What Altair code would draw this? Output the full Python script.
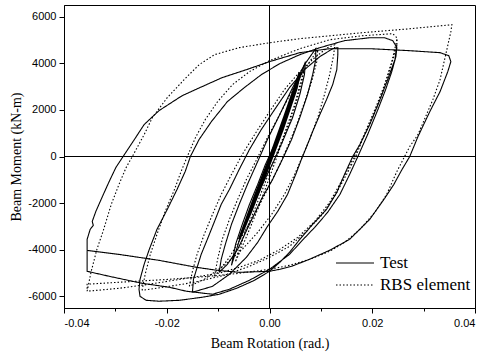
import altair as alt
import pandas as pd

# ---- Test (solid) hysteresis segments: (beam rotation [rad], beam moment [kN-m])
TEST_035 = [(-0.0355,-4030),(-0.0355,-3555),(-0.0349,-3125),(-0.0343,-2955),(-0.0345,-2785),(-0.0338,-2355),
            (-0.0326,-1755),(-0.0312,-1070),(-0.0299,-470),(-0.0285,0),(-0.0263,730),(-0.0244,1370),(-0.0215,1970),
            (-0.0170,2610),(-0.0127,3040),(-0.0092,3385),(-0.0045,3725),(0.0,4070),(0.0059,4455),(0.0117,4625),
            (0.0195,4625),(0.0273,4540),(0.0332,4455),(0.0349,4325),(0.0353,4070),(0.0347,3640),(0.0332,2785),
            (0.0312,1925),(0.0289,855),(0.0273,0),(0.0258,-555),(0.0242,-1200),(0.0224,-1800),(0.0195,-2700),
            (0.0156,-3555),(0.0117,-4025),(0.0078,-4410),(0.0043,-4710),(0.0020,-4840),(0.0,-4925),(-0.0059,-4970),
            (-0.0103,-4880),(-0.0142,-4755),(-0.0215,-4455),(-0.0293,-4200),(-0.0355,-4030)]
TEST_025 = [(0.0248,4800),(0.0244,4155),(0.0230,3300),(0.0215,2440),(0.0195,1370),(0.0176,515),(0.0162,0),
            (0.0146,-770),(0.0131,-1540),(0.0111,-2270),(0.0084,-2910),(0.0059,-3555),(0.0039,-4110),(0.0020,-4540),
            (0.0,-4925),(-0.0029,-5310),(-0.0064,-5655),(-0.0098,-5910),(-0.0131,-6040),(-0.0176,-6170),
            (-0.0215,-6210),(-0.0240,-6170),(-0.0252,-6000),(-0.0254,-5700),
            (-0.0252,-5270),(-0.0244,-4625),(-0.0234,-3985),(-0.0219,-3125),(-0.0199,-2270),(-0.0180,-1415),
            (-0.0164,-640),(-0.0154,0),(-0.0137,730),(-0.0113,1500),(-0.0082,2355),(-0.0049,2955),(-0.0016,3510),
            (0.0020,3985),(0.0059,4370),(0.0098,4670),(0.0146,4970),(0.0195,5095),(0.0224,5095),(0.0240,4970),
            (0.0248,4670),
            (0.0246,4280),(0.0238,3640),(0.0226,2870),(0.0211,2015),(0.0191,940),(0.0172,0),(0.0156,-770),
            (0.0137,-1630),(0.0113,-2400),(0.0088,-3040),(0.0062,-3640),(0.0039,-4200),(0.0,-4840),(-0.0039,-5310),
            (-0.0078,-5695),(-0.0111,-5910),
            (-0.0162,-5780),(-0.0195,-5610),(-0.0248,-5440),(-0.0312,-5140),(-0.0355,-4925),(-0.0355,-4030)]
TEST_015 = [(-0.0150,-5825),(-0.0148,-5270),(-0.0142,-4840),(-0.0133,-4200),(-0.0121,-3555),(-0.0107,-2785),
            (-0.0094,-2055),(-0.0078,-1415),(-0.0059,-555),(-0.0039,300),(-0.0016,1155),(0.0010,2015),(0.0039,2955),
            (0.0068,3725),(0.0098,4285),(0.0123,4625),(0.0133,4670),(0.0133,4370),(0.0131,3725),(0.0123,3085),
            (0.0111,2440),(0.0098,1800),(0.0084,1070),(0.0070,300),(0.0062,-130),(0.0051,-770),(0.0035,-1630),
            (0.0016,-2355),(-0.0004,-3000),(-0.0023,-3685),(-0.0045,-4325),(-0.0078,-5055),(-0.0111,-5570),
            (-0.0150,-5825)]
TEST_010 = [(-0.0098,-4970),(-0.0094,-4410),(-0.0086,-3770),(-0.0074,-2910),(-0.0059,-2055),(-0.0043,-1200),
            (-0.0023,-215),(-0.0004,730),(0.0020,1800),(0.0045,2955),(0.0068,3940),(0.0090,4625),(0.0090,4155),
            (0.0084,3510),(0.0074,2655),(0.0059,1670),(0.0043,730),(0.0025,-130),(0.0006,-985),(-0.0016,-1840),
            (-0.0039,-2910),(-0.0062,-3985),(-0.0082,-4625),(-0.0098,-4970)]
TEST_0075 = [(-0.0074,-4670),(-0.0066,-3770),(-0.0053,-2910),(-0.0039,-2055),(-0.0023,-1200),(-0.0008,-345),
             (0.0010,515),(0.0029,1585),(0.0051,2870),(0.0070,4070),(0.0068,3510),(0.0059,2655),(0.0045,1670),
             (0.0027,730),(0.0008,-215),(-0.0014,-1200),(-0.0035,-2270),(-0.0055,-3340),(-0.0074,-4670)]
TEST_005 = [(-0.0059,-3555),(-0.0030,-1800),(0.0,-100),(0.0030,1750),(0.0059,3600),(0.0052,2900),
            (0.0025,1150),(-0.0005,-600),(-0.0035,-2300),(-0.0059,-3555)]

# ---- RBS element model (dotted)
RBS_035 = [(-0.0355,-5780),(-0.0347,-4925),(-0.0336,-3985),(-0.0324,-3210),(-0.0308,-2055),(-0.0293,-1200),
           (-0.0279,-470),(-0.0267,0),(-0.0244,940),(-0.0228,1670),(-0.0199,2525),(-0.0166,3300),(-0.0137,3940),
           (-0.0107,4370),(-0.0059,4670),(0.0,4880),(0.0059,5055),(0.0180,5310),(0.0273,5480),(0.0355,5655),
           (0.0353,5355),(0.0343,4370),(0.0332,3300),(0.0318,2440),(0.0304,1715),(0.0289,940),(0.0273,430),
           (0.0263,0),(0.0248,-640),(0.0228,-1630),(0.0205,-2400),(0.0176,-3125),(0.0146,-3685),(0.0117,-4070),
           (0.0078,-4410),(0.0039,-4670),(0.0,-4840),(-0.0059,-5010),(-0.0117,-5140),(-0.0195,-5270),
           (-0.0293,-5395),(-0.0355,-5480),(-0.0355,-5780)]
RBS_025 = [(-0.0248,-5740),(-0.0242,-5055),(-0.0232,-4200),(-0.0219,-3340),(-0.0203,-2355),(-0.0185,-1415),
           (-0.0172,-640),(-0.0160,0),(-0.0144,815),(-0.0125,1585),(-0.0101,2355),(-0.0072,3085),(-0.0039,3640),
           (0.0,4110),(0.0059,4625),(0.0117,5010),(0.0180,5180),(0.0240,5270),(0.0248,5095),(0.0248,4795),
           (0.0240,4155),(0.0228,3300),(0.0215,2440),(0.0199,1585),(0.0181,730),(0.0168,0),(0.0152,-685),
           (0.0131,-1540),(0.0103,-2485),(0.0072,-3210),(0.0039,-3855),(0.0,-4325),(-0.0039,-4710),
           (-0.0088,-5095),(-0.0146,-5395),(-0.0195,-5570),(-0.0248,-5740)]
RBS_025B = [(0.0248,5010),(0.0238,4070),(0.0224,3085),(0.0209,2225),(0.0191,1285),(0.0174,430),(0.0162,-130),
            (0.0142,-985),(0.0117,-1970),(0.0088,-2785),(0.0055,-3470),(0.0020,-3985),(-0.0020,-4455),
            (-0.0059,-4755),(-0.0098,-5010),(-0.0162,-5225),(-0.0234,-5480),(-0.0293,-5655),(-0.0355,-5780)]
RBS_015 = [(-0.0156,-5570),(-0.0150,-4925),(-0.0141,-4200),(-0.0127,-3340),(-0.0111,-2485),(-0.0094,-1630),
           (-0.0074,-770),(-0.0053,85),(-0.0029,940),(0.0,1925),(0.0029,2870),(0.0059,3640),(0.0088,4240),
           (0.0113,4670),(0.0127,4795),(0.0125,4370),(0.0117,3510),(0.0107,2655),(0.0094,1670),(0.0078,730),
           (0.0064,0),(0.0049,-770),(0.0029,-1630),(0.0004,-2485),(-0.0023,-3255),(-0.0053,-3985),
           (-0.0088,-4670),(-0.0127,-5270),(-0.0156,-5570)]
RBS_010 = [(-0.0107,-5140),(-0.0101,-4410),(-0.0092,-3555),(-0.0078,-2700),(-0.0062,-1840),(-0.0045,-985),
           (-0.0025,-130),(-0.0004,815),(0.0020,1800),(0.0043,2785),(0.0068,3725),(0.0094,4585),(0.0092,4070),
           (0.0082,3210),(0.0068,2315),(0.0053,1370),(0.0037,515),(0.0020,-345),(-0.0004,-1415),(-0.0029,-2485),
           (-0.0055,-3470),(-0.0078,-4325),(-0.0107,-5140)]
RBS_0075 = [(-0.0066,-4495),(-0.0049,-3340),(-0.0025,-2055),(0.0,-640),(0.0025,730),(0.0049,2225),(0.0068,3810),
            (0.0062,3085),(0.0045,1800),(0.0023,515),(0.0,-900),(-0.0023,-2270),(-0.0047,-3555),(-0.0066,-4495)]

SERIES = ["Test", "RBS element"]
X_TICKS = [-0.04, -0.03, -0.02, -0.01, 0.0, 0.01, 0.02, 0.03, 0.04]
Y_TICKS = [-6000, -5000, -4000, -3000, -2000, -1000, 0, 1000, 2000, 3000, 4000, 5000, 6000]

segments = [
    ("t035", "Test", TEST_035), ("t025", "Test", TEST_025), ("t015", "Test", TEST_015),
    ("t010", "Test", TEST_010), ("t0075", "Test", TEST_0075),
    ("r035", "RBS element", RBS_035), ("r025", "RBS element", RBS_025), ("r025b", "RBS element", RBS_025B),
    ("r015", "RBS element", RBS_015), ("r010", "RBS element", RBS_010), ("r0075", "RBS element", RBS_0075),
]
rows = []
for seg, ser, pts in segments:
    for i, (r, m) in enumerate(pts):
        rows.append({"seg": seg, "series": ser, "rot": r, "M": m, "i": i})
df = pd.DataFrame(rows)
df_thick = pd.DataFrame([{"rot": r, "M": m, "i": i} for i, (r, m) in enumerate(TEST_005)])

x_major = "abs(round(datum.value*100)) % 2 == 0"
y_major = "abs(round(datum.value/1000)) % 2 == 0"

x_enc = alt.X("rot:Q", title="Beam Rotation (rad.)",
              scale=alt.Scale(domain=[-0.04, 0.04], nice=False, zero=False),
              axis=alt.Axis(values=X_TICKS, grid=False, labelOverlap=False,
                            labelExpr=f"{x_major} ? ((datum.value < 0 ? '-' : '') + format(abs(datum.value), '.2f')) : ''",
                            tickSize={"condition": {"test": x_major, "value": 5}, "value": 3},
                            labelPadding=4, titlePadding=8))
y_enc = alt.Y("M:Q", title="Beam Moment (kN-m)",
              scale=alt.Scale(domain=[-6500, 6500], nice=False, zero=False),
              axis=alt.Axis(values=Y_TICKS, grid=False, labelOverlap=False,
                            labelExpr=f"{y_major} ? ((datum.value < 0 ? '-' : '') + format(abs(datum.value), 'd')) : ''",
                            tickSize={"condition": {"test": y_major, "value": 5}, "value": 3},
                            labelPadding=3, titlePadding=4))

lines = alt.Chart(df).mark_line(color="black", strokeWidth=1.1).encode(
    x=x_enc, y=y_enc, detail="seg:N", order="i:Q",
    strokeDash=alt.StrokeDash("series:N",
                              scale=alt.Scale(domain=SERIES, range=[[1, 0], [1.5, 2]]),
                              legend=alt.Legend(title=None, orient="none", legendX=271, legendY=247,
                                                symbolType="stroke", symbolSize=1444,
                                                symbolStrokeColor="black", symbolStrokeWidth=1.2,
                                                labelFont="Liberation Serif", labelFontSize=17,
                                                labelColor="black", labelOffset=5, clipHeight=22,
                                                padding=0, rowPadding=0)),
)
thick = alt.Chart(df_thick).mark_line(color="black", strokeWidth=2.6).encode(
    x="rot:Q", y="M:Q", order="i:Q")
vrule = alt.Chart(pd.DataFrame({"rot": [0.0]})).mark_rule(color="black", strokeWidth=1).encode(x="rot:Q")
hrule = alt.Chart(pd.DataFrame({"M": [0.0]})).mark_rule(color="black", strokeWidth=1).encode(y="M:Q")

chart = alt.layer(vrule, hrule, lines, thick).properties(
    width=411, height=303,
    background="white",
    autosize=alt.AutoSizeParams(type="none"),
    padding={"left": 64, "top": 5, "right": 12, "bottom": 50},
).configure_view(stroke="black", strokeWidth=1).configure_axis(
    labelFont="Liberation Sans", labelFontSize=11, labelColor="black",
    tickColor="black", domainColor="black", tickWidth=1,
    titleFont="Liberation Serif", titleFontSize=14, titleFontWeight="normal", titleColor="black",
)

chart.save("out.html", embed_options={"renderer": "svg", "actions": False})
